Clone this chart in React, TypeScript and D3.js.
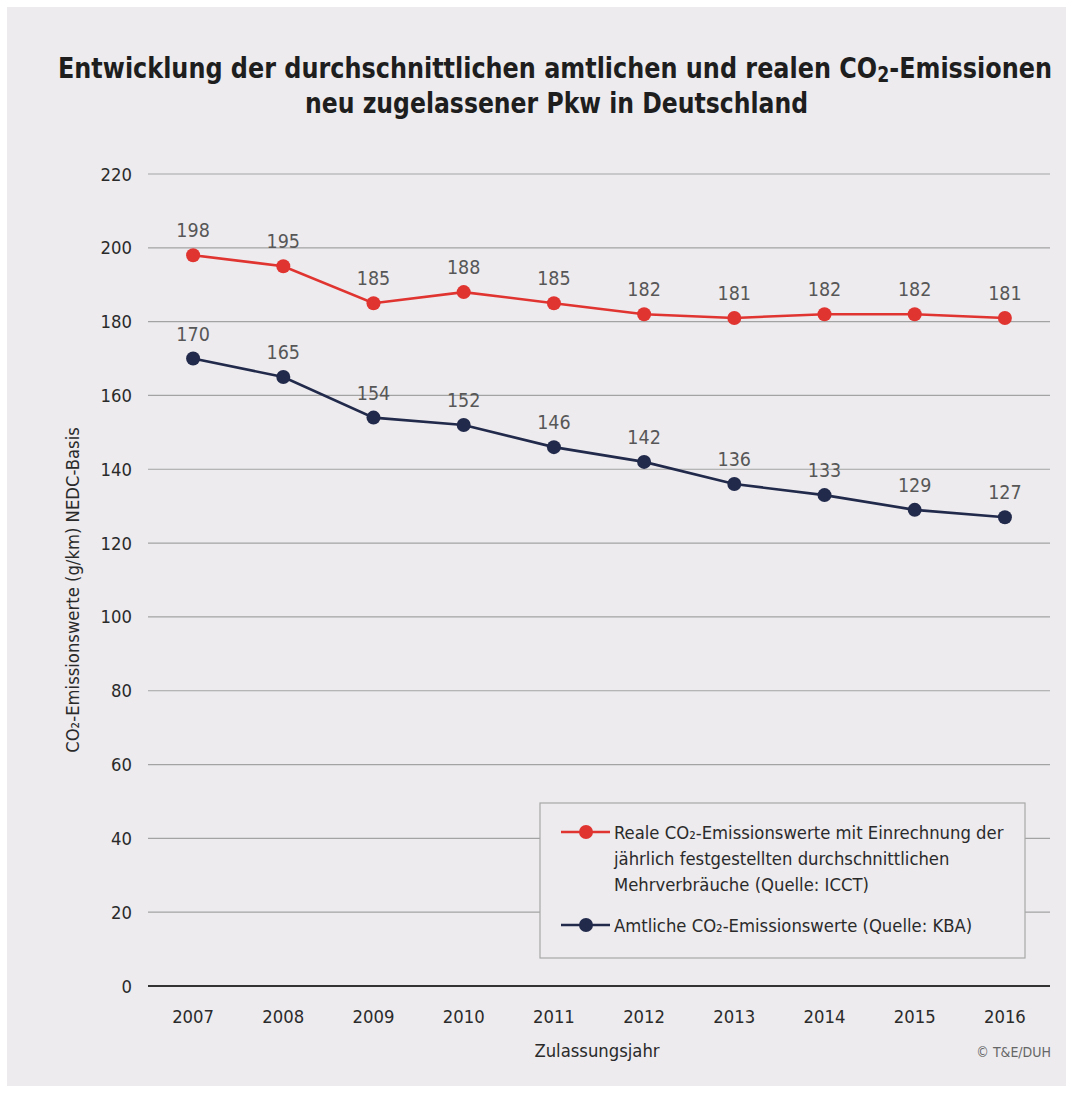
import React from "react";
import * as d3 from "d3";

const years = ["2007", "2008", "2009", "2010", "2011", "2012", "2013", "2014", "2015", "2016"];
const realValues = [198, 195, 185, 188, 185, 182, 181, 182, 182, 181];
const officialValues = [170, 165, 154, 152, 146, 142, 136, 133, 129, 127];
const yTicks = [0, 20, 40, 60, 80, 100, 120, 140, 160, 180, 200, 220];

const W = 1074;
const H = 1093;
const FONT = "'DejaVu Sans Condensed', 'DejaVu Sans', sans-serif";
const RED = "#e03431";
const NAVY = "#222a4b";
const TEXT = "#2a2a2a";
const LABEL = "#575757";
const FS = 18.3;

export default function App() {
  const x = d3.scaleBand<string>().domain(years).range([148, 1050]);
  const y = d3.scaleLinear().domain([0, 220]).range([986, 174]);
  const cx = (yr: string) => (x(yr) as number) + x.bandwidth() / 2;
  const line = d3
    .line<number>()
    .x((_, i) => cx(years[i]))
    .y((v) => y(v));

  const series = [
    { values: realValues, color: RED },
    { values: officialValues, color: NAVY },
  ];

  return (
    <svg
      width={W}
      height={H}
      style={{ position: "absolute", left: 0, top: 0, display: "block" }}
      fontFamily={FONT}
    >
      <rect x={0} y={0} width={W} height={H} fill="#ffffff" />
      <rect x={7} y={7} width={1059} height={1079} fill="#edebee" />

      {/* Title */}
      <text
        x={58}
        y={78}
        fontSize={29}
        fontWeight="bold"
        fill="#1e1e1e"
        textLength={994}
        lengthAdjust="spacingAndGlyphs"
      >
        Entwicklung der durchschnittlichen amtlichen und realen CO
        <tspan fontSize={21} dy={4}>2</tspan>
        <tspan dy={-4}>-Emissionen</tspan>
      </text>
      <text
        x={305}
        y={113}
        fontSize={29}
        fontWeight="bold"
        fill="#1e1e1e"
        textLength={503}
        lengthAdjust="spacingAndGlyphs"
      >
        neu zugelassener Pkw in Deutschland
      </text>

      {/* Grid */}
      {yTicks.map((t) => (
        <g key={t}>
          <line
            x1={148}
            x2={1050}
            y1={y(t)}
            y2={y(t)}
            stroke={t === 0 ? "#333333" : "#a3a3a3"}
            strokeWidth={t === 0 ? 2 : 1.2}
          />
          <text x={132} y={y(t) + 6.5} textAnchor="end" fontSize={FS} fill={TEXT}>
            {t}
          </text>
        </g>
      ))}

      {/* X tick labels */}
      {years.map((yr) => (
        <text key={yr} x={cx(yr)} y={1023} textAnchor="middle" fontSize={FS} fill={TEXT}>
          {yr}
        </text>
      ))}

      {/* Axis titles */}
      <text x={597} y={1057} textAnchor="middle" fontSize={FS} fill={TEXT}>
        Zulassungsjahr
      </text>
      <text
        transform={`translate(79,${590}) rotate(-90)`}
        textAnchor="middle"
        fontSize={FS}
        fill={TEXT}
      >
        CO₂-Emissionswerte (g/km) NEDC-Basis
      </text>
      <text x={1051} y={1057} textAnchor="end" fontSize={14} fill="#666666">
        © T&amp;E/DUH
      </text>

      {/* Series */}
      {series.map((s, si) => (
        <g key={si}>
          <path d={line(s.values) || ""} fill="none" stroke={s.color} strokeWidth={2.6} />
          {s.values.map((v, i) => (
            <circle key={i} cx={cx(years[i])} cy={y(v)} r={7} fill={s.color} />
          ))}
          {s.values.map((v, i) => (
            <text
              key={"l" + i}
              x={cx(years[i])}
              y={y(v) - 18}
              textAnchor="middle"
              fontSize={19.5}
              fill={LABEL}
            >
              {v}
            </text>
          ))}
        </g>
      ))}

      {/* Legend */}
      <rect x={540} y={803} width={485} height={155} fill="#edebee" stroke="#a8a8a8" strokeWidth={1.2} />
      <line x1={561} x2={610} y1={832} y2={832} stroke={RED} strokeWidth={2.6} />
      <circle cx={586} cy={832} r={7} fill={RED} />
      <text x={614} y={839} fontSize={FS} fill={TEXT}>
        Reale CO₂-Emissionswerte mit Einrechnung der
      </text>
      <text x={614} y={865} fontSize={FS} fill={TEXT}>
        jährlich festgestellten durchschnittlichen
      </text>
      <text x={614} y={891} fontSize={FS} fill={TEXT}>
        Mehrverbräuche (Quelle: ICCT)
      </text>
      <line x1={561} x2={610} y1={925} y2={925} stroke={NAVY} strokeWidth={2.6} />
      <circle cx={586} cy={925} r={7} fill={NAVY} />
      <text x={614} y={932} fontSize={FS} fill={TEXT}>
        Amtliche CO₂-Emissionswerte (Quelle: KBA)
      </text>
    </svg>
  );
}
